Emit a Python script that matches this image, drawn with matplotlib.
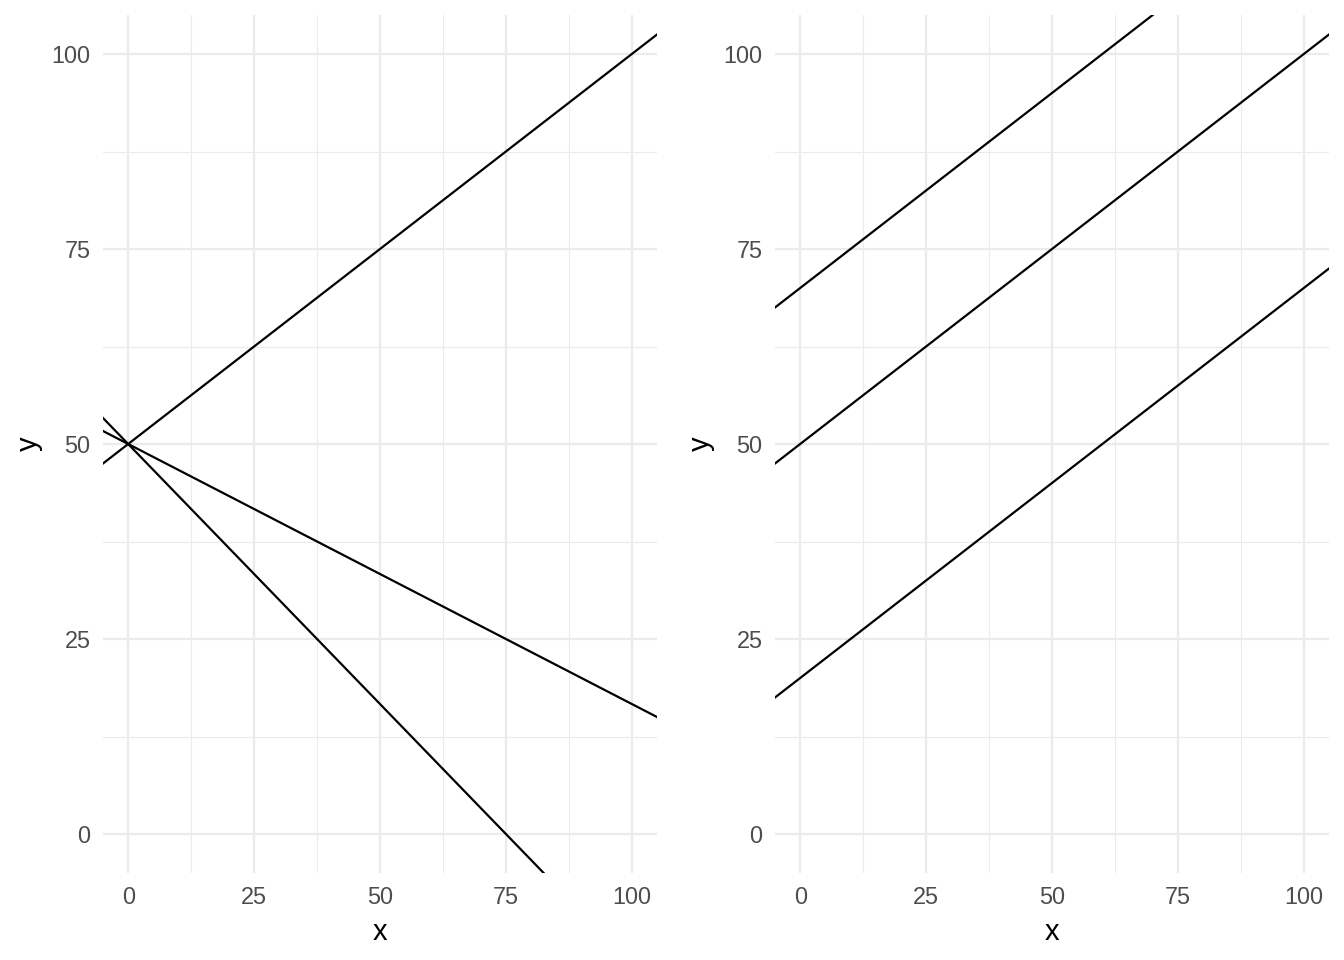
import matplotlib
matplotlib.use("Agg")
import matplotlib.pyplot as plt

plt.rcParams["font.family"] = ["Liberation Sans", "DejaVu Sans"]

# left panel: lines through (0, 50) with different slopes
left_intercepts = [50, 50, 50]
left_slopes = [0.5, -1 / 3, -2 / 3]

# right panel: parallel lines
right_intercepts = [20, 50, 70]
right_slopes = [0.5, 0.5, 0.5]

ticks = [0, 25, 50, 75, 100]
minor_ticks = [12.5, 37.5, 62.5, 87.5]
lims = (-5, 105)

GRID = "#EBEBEB"
TEXT = "#4D4D4D"

fig = plt.figure(figsize=(13.44, 9.6), dpi=100)
ax_left = fig.add_axes([103 / 1344, 1 - 873 / 960, 554 / 1344, 858 / 960])
ax_right = fig.add_axes([775 / 1344, 1 - 873 / 960, 554 / 1344, 858 / 960])


def draw_panel(ax, intercepts, slopes):
    ax.set_xlim(*lims)
    ax.set_ylim(*lims)
    ax.set_xticks(ticks)
    ax.set_yticks(ticks)
    ax.set_xticks(minor_ticks, minor=True)
    ax.set_yticks(minor_ticks, minor=True)
    ax.grid(which="major", color=GRID, linewidth=1.6)
    ax.grid(which="minor", color=GRID, linewidth=0.8)
    ax.set_axisbelow(True)
    for s in ax.spines.values():
        s.set_visible(False)
    ax.tick_params(which="both", length=0, labelsize=16.9, labelcolor=TEXT)
    ax.tick_params(axis="x", pad=9.5)
    ax.tick_params(axis="y", pad=9)
    ax.set_xlabel("x", fontsize=21, labelpad=6)
    ax.set_ylabel("y", fontsize=21, labelpad=6)
    for b, m in zip(intercepts, slopes):
        ax.axline((0, b), slope=m, color="black", linewidth=1.6)


draw_panel(ax_left, left_intercepts, left_slopes)
draw_panel(ax_right, right_intercepts, right_slopes)

fig.savefig("out.png", dpi=100)
plt.close("all")
